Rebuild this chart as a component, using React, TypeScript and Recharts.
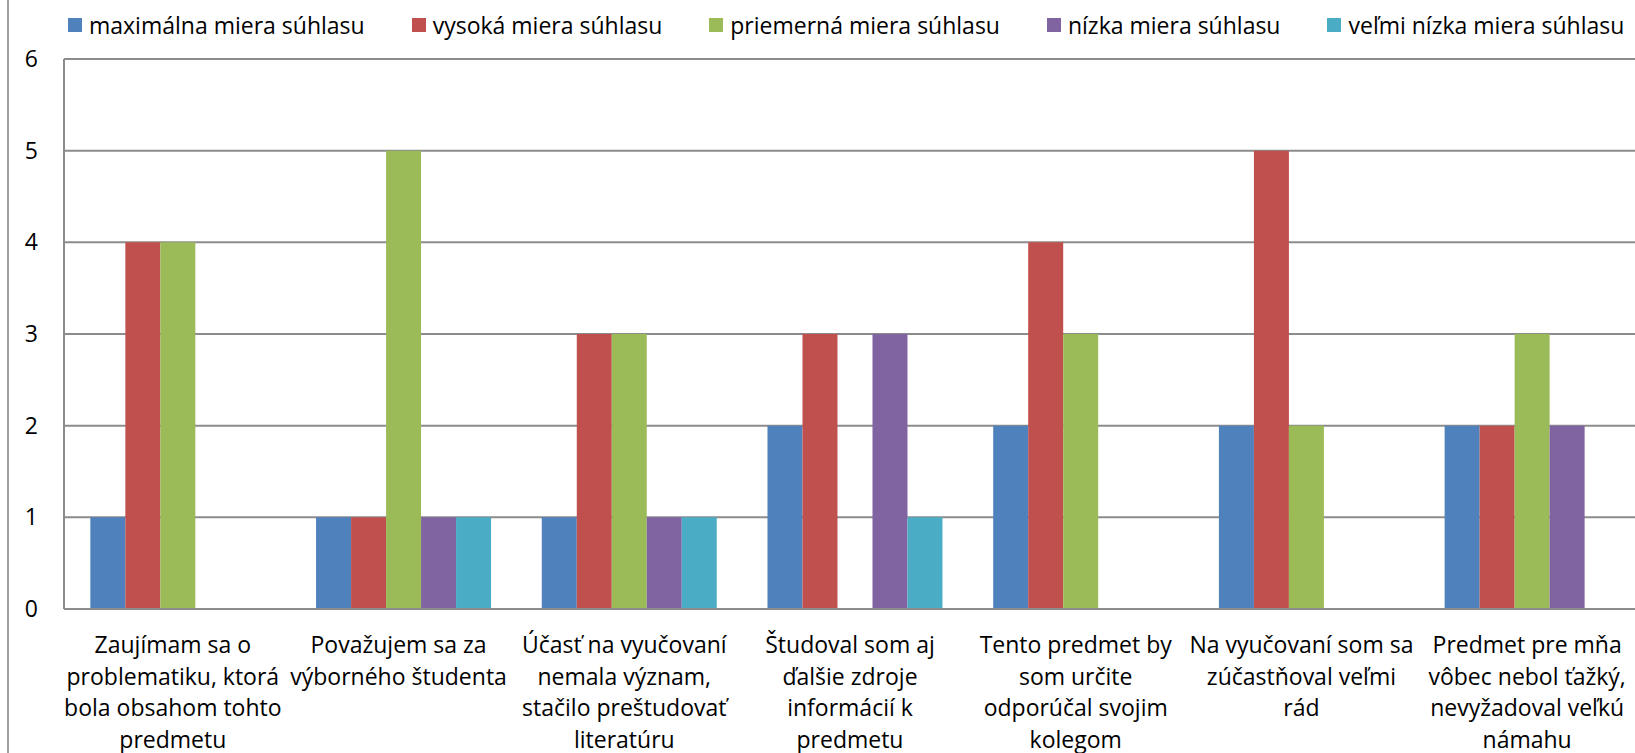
import { BarChart, Bar, XAxis, YAxis, CartesianGrid, Legend } from "recharts";

const FONT = "'Open Sans', Lato, sans-serif";

// kategórie (riadky zalomené ako v pôvodnom grafe)
const categories = [
  "Zaujímam sa o\nproblematiku, ktorá\nbola obsahom tohto\npredmetu",
  "Považujem sa za\nvýborného študenta",
  "Účasť na vyučovaní\nnemala význam,\nstačilo preštudovať\nliteratúru",
  "Študoval som aj\nďalšie zdroje\ninformácií k\npredmetu",
  "Tento predmet by\nsom určite\nodporúčal svojim\nkolegom",
  "Na vyučovaní som sa\nzúčastňoval veľmi\nrád",
  "Predmet pre mňa\nvôbec nebol ťažký,\nnevyžadoval veľkú\nnámahu",
];

const maximalna = [1, 1, 1, 2, 2, 2, 2];
const vysoka = [4, 1, 3, 3, 4, 5, 2];
const priemerna = [4, 5, 3, 0, 3, 2, 3];
const nizka = [0, 1, 1, 3, 0, 0, 2];
const velmiNizka = [0, 1, 1, 1, 0, 0, 0];

const yTicks = [0, 1, 2, 3, 4, 5, 6];

const SERIES = [
  { key: "maximalna", name: "maximálna miera súhlasu", color: "#4F81BD", values: maximalna },
  { key: "vysoka", name: "vysoká miera súhlasu", color: "#C0504D", values: vysoka },
  { key: "priemerna", name: "priemerná miera súhlasu", color: "#9BBB59", values: priemerna },
  { key: "nizka", name: "nízka miera súhlasu", color: "#8064A2", values: nizka },
  { key: "velmiNizka", name: "veľmi nízka miera súhlasu", color: "#4BACC6", values: velmiNizka },
];

const data = categories.map((label, i) => {
  const row: Record<string, string | number> = { label };
  SERIES.forEach((s) => {
    row[s.key] = s.values[i];
  });
  return row;
});

function CategoryTick({ x, y, payload }: any) {
  const lines = String(payload.value).split("\n");
  return (
    <text x={x} y={y} textAnchor="middle" fill="#000" fontSize={23} fontFamily={FONT}>
      {lines.map((line, i) => (
        <tspan key={i} x={x - 4} dy={i === 0 ? 44 : 31.5}>
          {line}
        </tspan>
      ))}
    </text>
  );
}

function LegendContent() {
  return (
    <div style={{ display: "flex", alignItems: "center", fontFamily: FONT, fontSize: 23, color: "#000" }}>
      {SERIES.map((s) => (
        <div key={s.key} style={{ display: "flex", alignItems: "center", marginRight: 47, whiteSpace: "nowrap" }}>
          <span style={{ width: 14, height: 14, background: s.color, marginRight: 7, display: "inline-block" }} />
          <span>{s.name}</span>
        </div>
      ))}
    </div>
  );
}

export default function App() {
  return (
    <div
      style={{
        position: "fixed",
        left: 0,
        top: 0,
        width: 1635,
        height: 753,
        overflow: "hidden",
        background: "#fff",
      }}
    >
      <div style={{ position: "absolute", left: 7, top: 0, width: 2, height: 753, background: "#a0a0a0" }} />
      <div style={{ position: "absolute", left: 0, top: 0 }}>
        <BarChart
          width={1700}
          height={800}
          data={data}
          margin={{ top: 59, right: 56, bottom: 0, left: 0 }}
          barCategoryGap="11.67%"
          barGap={0}
        >
          <CartesianGrid vertical={false} stroke="#8c8c8c" strokeWidth={2} />
          <XAxis
            dataKey="label"
            interval={0}
            height={191}
            tickLine={false}
            tickSize={0}
            tickMargin={0}
            axisLine={{ stroke: "#8c8c8c", strokeWidth: 2 }}
            tick={<CategoryTick />}
          />
          <YAxis
            domain={[0, 6]}
            ticks={yTicks}
            width={64}
            tickLine={false}
            tickSize={0}
            tickMargin={26}
            axisLine={{ stroke: "#8c8c8c", strokeWidth: 2 }}
            tick={{ fill: "#000", fontSize: 23, fontFamily: FONT }}
          />
          <Legend
            layout="horizontal"
            verticalAlign="middle"
            content={<LegendContent />}
            wrapperStyle={{ position: "absolute", left: 68, top: 9, width: "auto" }}
          />
          {SERIES.map((s) => (
            <Bar key={s.key} dataKey={s.key} name={s.name} fill={s.color} isAnimationActive={false} />
          ))}
        </BarChart>
      </div>
    </div>
  );
}
